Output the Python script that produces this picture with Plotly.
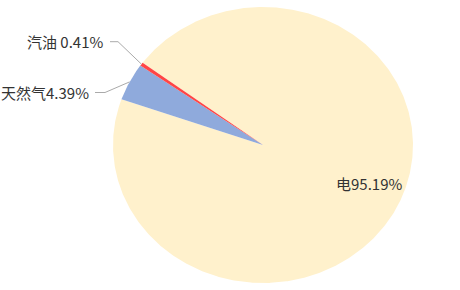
import numpy as np
import plotly.graph_objects as go

# data
categories = ["电", "天然气", "汽油"]
values = [95.19, 4.39, 0.41]
label_texts = ["电95.19%", "天然气4.39%", "汽油 0.41%"]
colors = ["#FFF1CC", "#8FAADC", "#FF4545"]

# layout constants (pixel space)
W, H = 460, 290
cx, cy = 263, 145
rx, ry = 150, 138
start_deg = 143.4  # clockwise from here

fig = go.Figure()
total = sum(values)
a0 = start_deg
mids = []
for name, v, col in zip(categories, values, colors):
    span = v / total * 360.0
    a1 = a0 - span
    n = max(4, int(span * 2))
    th = np.radians(np.linspace(a0, a1, n))
    xs = np.concatenate([[cx], cx + rx * np.cos(th), [cx]])
    ys = np.concatenate([[cy], cy - ry * np.sin(th), [cy]])
    fig.add_trace(go.Scatter(x=xs, y=ys, mode="lines", fill="toself",
                             fillcolor=col, line=dict(width=0, color=col),
                             name=name, hoverinfo="name", showlegend=False))
    mids.append((a0 + a1) / 2)
    a0 = a1

# label placement: (elbow x, y, text end x) for outside labels
outside = {1: (105, 92.5, 95), 2: (118, 41.7, 110)}
for i, (ex, ey, tx) in outside.items():
    m = np.radians(mids[i])
    px, py = cx + rx * np.cos(m), cy - ry * np.sin(m)
    fig.add_trace(go.Scatter(x=[px, ex, tx], y=[py, ey, ey], mode="lines",
                             line=dict(color="#AAAAAA", width=1),
                             hoverinfo="skip", showlegend=False))
    fig.add_annotation(x=tx - 4, y=ey, text=label_texts[i], showarrow=False,
                       xanchor="right", yanchor="middle",
                       font=dict(family="Noto Sans CJK SC", size=15, color="#333333"))

fig.add_annotation(x=334, y=183.5, text=label_texts[0], showarrow=False,
                   xanchor="left", yanchor="middle",
                   font=dict(family="Noto Sans CJK SC", size=15, color="#333333"))

fig.update_xaxes(range=[0, W], visible=False, fixedrange=True)
fig.update_yaxes(range=[H, 0], visible=False, fixedrange=True)
fig.update_layout(width=W, height=H, margin=dict(l=0, r=0, t=0, b=0),
                  paper_bgcolor="white", plot_bgcolor="white")
fig.write_html("out.html")
